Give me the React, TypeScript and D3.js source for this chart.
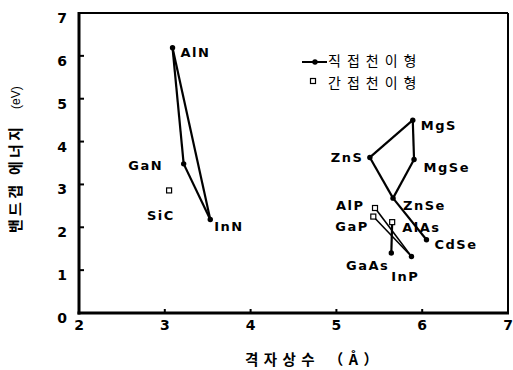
import * as d3 from 'd3';

// 직접천이형 반도체 (격자상수 Å, 밴드갭 eV)
const directNames = ['AlN', 'GaN', 'InN', 'MgS', 'MgSe', 'ZnS', 'ZnSe', 'CdSe', 'GaAs', 'InP'];
const directLattice = [3.09, 3.22, 3.53, 5.89, 5.905, 5.39, 5.66, 6.05, 5.64, 5.875];
const directGap = [6.19, 3.48, 2.18, 4.5, 3.58, 3.63, 2.68, 1.71, 1.4, 1.32];

// 간접천이형 반도체
const indirectNames = ['SiC', 'AlP', 'GaP', 'AlAs'];
const indirectLattice = [3.05, 5.45, 5.43, 5.65];
const indirectGap = [2.86, 2.45, 2.25, 2.12];

// 혼정 연결선
const links = [
	['AlN', 'GaN'], ['GaN', 'InN'], ['InN', 'AlN'],
	['ZnS', 'MgS'], ['MgS', 'MgSe'], ['MgSe', 'ZnSe'], ['ZnSe', 'ZnS'], ['ZnSe', 'CdSe'],
	['AlP', 'InP'], ['GaP', 'InP'], ['AlAs', 'GaAs']
];

const xTicks = [2, 3, 4, 5, 6, 7];
const yTicks = [0, 1, 2, 3, 4, 5, 6, 7];
const legendLabels = ['직접천이형', '간접천이형'];

// 라벨 위치 (점 기준 dx, 기준선 dy, 정렬)
const labelPos: Record<string, [number, number, string]> = {
	AlN: [8, 9, 'start'], GaN: [-22, 6, 'end'], InN: [4, 11, 'start'], SiC: [-9, 30, 'middle'],
	MgS: [8, 10, 'start'], MgSe: [9.5, 12, 'start'], ZnS: [-8, 4.5, 'end'], ZnSe: [10, 12, 'start'],
	CdSe: [8, 9, 'start'], AlAs: [10, 9.5, 'start'], AlP: [-12, 2, 'end'], GaP: [-6, 14, 'end'],
	GaAs: [-3.5, 17, 'end'], InP: [-7, 25, 'middle']
};

export default function App(){
	const W = 513, H = 370
		, x = d3.scaleLinear().domain([2, 7]).range([79, 508])
		, y = d3.scaleLinear().domain([0, 7]).range([313, 13])
		, pts: Record<string, [number, number]> = {}
		, latin = '"DejaVu Sans", sans-serif'
		, plain = '"Liberation Sans", Arial, sans-serif'
		, korean = '"Noto Sans CJK KR", sans-serif'
		, ls = 1.5
		;

	directNames.forEach((n, i)=>{ pts[n] = [x(directLattice[i]), y(directGap[i])]; });
	indirectNames.forEach((n, i)=>{ pts[n] = [x(indirectLattice[i]), y(indirectGap[i])]; });

	const line = d3.line();

	return (<svg width={W} height={H} style={{position: 'absolute', left: 0, top: 0, background: '#fff'}}>
		{/* 연결선 */}
		{links.map(([a, b], i)=>(<path key={'l' + i}
		                               d={line([pts[a], pts[b]]) || ''}
		                               stroke="#000"
		                               strokeWidth={i >= 8 && i <= 9 ? 1.6 : 2.2}
		                               fill="none"/>))}

		{/* 직접천이형 점 */}
		{directNames.map((n)=>(<circle key={n} cx={pts[n][0]} cy={pts[n][1]} r={2.7} fill="#000"/>))}

		{/* 간접천이형 점 */}
		{indirectNames.map((n)=>(<rect key={n}
		                              x={pts[n][0] - 2.5}
		                              y={pts[n][1] - 2.5}
		                              width={5}
		                              height={5}
		                              fill="#fff"
		                              stroke="#000"
		                              strokeWidth={1.2}/>))}

		{/* 라벨 */}
		{[...directNames, ...indirectNames].map((n)=>{
			const [dx, dy, anchor] = labelPos[n]
				, shift = anchor === 'end' ? ls : anchor === 'middle' ? ls / 2 : 0
				;
			return (<text key={'t' + n}
			              x={pts[n][0] + dx + shift}
			              y={pts[n][1] + dy}
			              textAnchor={anchor}
			              fontFamily={latin}
			              fontWeight="bold"
			              letterSpacing={ls}
			              fontSize={13}>{n}</text>);
		})}

		{/* 프레임 */}
		<line x1={x(2)} x2={x(7)} y1={y(7)} y2={y(7)} stroke="#000" strokeWidth={2}/>
		<line x1={x(7)} x2={x(7)} y1={y(7)} y2={y(0)} stroke="#000" strokeWidth={2}/>
		<line x1={x(2)} x2={x(2)} y1={y(7) - 1} y2={y(0) + 1.5} stroke="#000" strokeWidth={3}/>
		<line x1={x(2) - 1.5} x2={x(7) + 1} y1={y(0)} y2={y(0)} stroke="#000" strokeWidth={3}/>

		{/* 눈금 */}
		{yTicks.map((t)=>(<g key={'y' + t}>
			<line x1={x(2)} x2={x(2) + 5} y1={y(t)} y2={y(t)} stroke="#000" strokeWidth={2}/>
			<text x={62} y={y(t) + 10} textAnchor="middle" fontFamily={latin} fontWeight="bold" fontSize={14}>{t}</text>
		</g>))}
		{xTicks.map((t)=>(<g key={'x' + t}>
			<line x1={x(t)} x2={x(t)} y1={y(0)} y2={y(0) - 4} stroke="#000" strokeWidth={2}/>
			<text x={x(t)} y={330} textAnchor="middle" fontFamily={latin} fontWeight="bold" fontSize={14}>{t}</text>
		</g>))}

		{/* 축 제목 */}
		<text x={245} y={365} fontFamily={korean} fontWeight="bold" fontSize={14.5}
		      textLength={133} lengthAdjust="spacing">격자상수 （Å）</text>
		<text transform="translate(21,233) rotate(-90)" fontFamily={korean} fontWeight="bold" fontSize={15}
		      textLength={106} lengthAdjust="spacing">밴드갭 에너지</text>
		<text transform="translate(20,109) rotate(-90)" fontFamily={plain} fontSize={12}>(eV)</text>

		{/* 범례 */}
		<line x1={302} x2={327} y1={62} y2={62} stroke="#000" strokeWidth={2}/>
		<circle cx={315} cy={62} r={2.7} fill="#000"/>
		<text x={328} y={66} fontFamily={korean} fontSize={14} letterSpacing={6}>{legendLabels[0]}</text>
		<rect x={310.5} y={78.5} width={5} height={5} fill="#fff" stroke="#000" strokeWidth={1.2}/>
		<text x={328} y={88} fontFamily={korean} fontSize={14} letterSpacing={6}>{legendLabels[1]}</text>
	</svg>);
}
